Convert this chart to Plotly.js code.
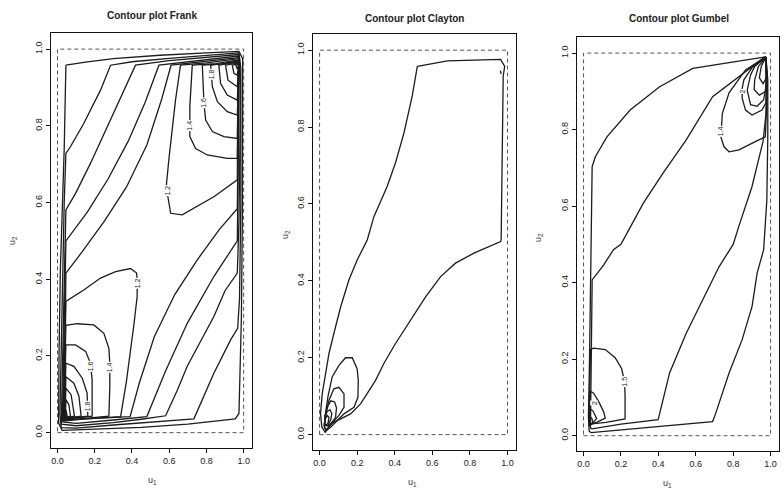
<!DOCTYPE html>
<html><head><meta charset="utf-8">
<script src="https://cdn.plot.ly/plotly-3.0.1.min.js"></script>
<style>html,body{margin:0;padding:0;background:#fff}#chart{width:783px;height:491px}</style>
</head><body><div id="chart"></div>
<script>
// ---------- tick labels ----------
const tickVals = [0, 0.2, 0.4, 0.6, 0.8, 1.0];
const tickText = ['0.0', '0.2', '0.4', '0.6', '0.8', '1.0'];
const panelTitles = ['Contour plot Frank', 'Contour plot Clayton', 'Contour plot Gumbel'];

// ---------- Frank: contour lines ([u1,u2] points) ----------
const frankOuter = [[0.045,0.958],[0.15,0.966],[0.3,0.975],[0.55,0.984],[0.8,0.99],[0.975,0.994],[0.995,0.975],[0.995,0.8],[0.993,0.55],[0.988,0.3],[0.975,0.05],[0.955,0.036],[0.85,0.03],[0.7,0.022],[0.45,0.014],[0.2,0.009],[0.025,0.006],[0.006,0.025],[0.008,0.2],[0.015,0.42],[0.025,0.57],[0.036,0.74],[0.045,0.958]];
const frankLow04 = [[0.975,0.99],[0.8,0.984],[0.6,0.976],[0.4,0.967],[0.285,0.958],[0.231,0.893],[0.141,0.806],[0.07,0.746],[0.045,0.728],[0.036,0.6],[0.028,0.4],[0.02,0.2],[0.013,0.05],[0.02,0.013],[0.1,0.012],[0.3,0.02],[0.55,0.03],[0.733,0.036],[0.84,0.155],[0.93,0.242],[0.968,0.272],[0.978,0.35],[0.985,0.6],[0.987,0.8],[0.985,0.95],[0.975,0.99]];
const frankLow06 = [[0.975,0.986],[0.8,0.979],[0.6,0.97],[0.419,0.958],[0.357,0.893],[0.267,0.798],[0.177,0.702],[0.097,0.624],[0.045,0.581],[0.039,0.45],[0.032,0.25],[0.024,0.1],[0.02,0.022],[0.1,0.018],[0.3,0.026],[0.45,0.035],[0.581,0.044],[0.643,0.11],[0.697,0.173],[0.84,0.303],[0.9,0.37],[0.966,0.416],[0.975,0.55],[0.98,0.75],[0.982,0.92],[0.975,0.986]];
const frankLow08 = [[0.975,0.982],[0.8,0.973],[0.65,0.965],[0.545,0.958],[0.47,0.86],[0.38,0.76],[0.27,0.66],[0.16,0.575],[0.045,0.5],[0.04,0.35],[0.034,0.2],[0.028,0.08],[0.025,0.028],[0.1,0.024],[0.3,0.033],[0.48,0.042],[0.58,0.16],[0.697,0.285],[0.84,0.407],[0.966,0.5],[0.97,0.65],[0.975,0.85],[0.975,0.982]];
const frankLow10 = [[0.975,0.978],[0.8,0.968],[0.61,0.958],[0.56,0.87],[0.48,0.75],[0.37,0.64],[0.25,0.55],[0.13,0.47],[0.045,0.416],[0.042,0.3],[0.037,0.15],[0.031,0.05],[0.03,0.034],[0.15,0.036],[0.39,0.042],[0.44,0.13],[0.52,0.25],[0.63,0.36],[0.75,0.45],[0.87,0.53],[0.966,0.584],[0.97,0.75],[0.972,0.9],[0.975,0.978]];
const frankHi12TR = [[0.975,0.975],[0.8,0.964],[0.661,0.958],[0.634,0.867],[0.6,0.72],[0.584,0.641],[0.608,0.572],[0.67,0.568],[0.84,0.615],[0.966,0.659],[0.968,0.8],[0.972,0.93],[0.975,0.975]];
const frankHi14TR = [[0.975,0.972],[0.85,0.962],[0.724,0.958],[0.711,0.85],[0.711,0.772],[0.742,0.741],[0.805,0.724],[0.912,0.715],[0.966,0.715],[0.97,0.85],[0.975,0.972]];
const frankHi16TR = [[0.975,0.97],[0.88,0.961],[0.778,0.958],[0.787,0.858],[0.796,0.815],[0.832,0.785],[0.894,0.772],[0.966,0.767],[0.97,0.88],[0.975,0.97]];
const frankHi18TR = [[0.975,0.968],[0.823,0.958],[0.832,0.902],[0.859,0.863],[0.912,0.837],[0.966,0.828],[0.972,0.91],[0.975,0.968]];
const frankHi20TR = [[0.975,0.966],[0.867,0.958],[0.876,0.911],[0.912,0.88],[0.966,0.867],[0.975,0.966]];
const frankHi22TR = [[0.975,0.964],[0.903,0.958],[0.916,0.919],[0.966,0.902],[0.975,0.964]];
const frankHi24TR = [[0.975,0.962],[0.939,0.958],[0.948,0.937],[0.966,0.932],[0.975,0.962]];
const frankHi26TR = [[0.975,0.96],[0.958,0.958],[0.966,0.948],[0.975,0.96]];
const frankHi12BL = [[0.03,0.03],[0.038,0.15],[0.045,0.342],[0.141,0.372],[0.231,0.403],[0.312,0.42],[0.392,0.428],[0.425,0.416],[0.428,0.394],[0.428,0.355],[0.41,0.28],[0.37,0.133],[0.339,0.042],[0.15,0.036],[0.03,0.03]];
const frankHi14BL = [[0.032,0.032],[0.04,0.2],[0.045,0.28],[0.106,0.284],[0.195,0.281],[0.249,0.259],[0.276,0.22],[0.281,0.181],[0.281,0.121],[0.276,0.043],[0.15,0.038],[0.032,0.032]];
const frankHi16BL = [[0.034,0.034],[0.045,0.229],[0.097,0.229],[0.151,0.212],[0.177,0.181],[0.186,0.138],[0.186,0.043],[0.034,0.034]];
const frankHi18BL = [[0.036,0.036],[0.045,0.181],[0.088,0.173],[0.133,0.142],[0.159,0.103],[0.163,0.043],[0.036,0.036]];
const frankHi20BL = [[0.038,0.037],[0.045,0.146],[0.088,0.129],[0.115,0.095],[0.127,0.043],[0.038,0.037]];
const frankHi22BL = [[0.04,0.038],[0.045,0.116],[0.073,0.099],[0.091,0.043],[0.04,0.038]];
const frankHi24BL = [[0.042,0.04],[0.045,0.086],[0.061,0.073],[0.07,0.043],[0.042,0.04]];
const frankHi26BL = [[0.043,0.041],[0.045,0.06],[0.052,0.043],[0.043,0.041]];
const frankLabelText = ['1.2','1.4','1.6','1.8','1.2','1.4','1.6','1.8'];
const frankLabelX = [0.586,0.711,0.787,0.826,0.428,0.281,0.178,0.161];
const frankLabelY = [0.63,0.80,0.86,0.935,0.39,0.17,0.172,0.07];

// ---------- Clayton ----------
const claytonOuter = [[0.52,0.958],[0.68,0.972],[0.963,0.976],[0.985,0.958],[0.977,0.933],[0.972,0.7],[0.966,0.507],[0.963,0.502],[0.821,0.472],[0.723,0.446],[0.644,0.411],[0.564,0.358],[0.484,0.298],[0.404,0.237],[0.342,0.185],[0.298,0.141],[0.218,0.08],[0.165,0.054],[0.059,0.028],[0.03,0.006],[0.012,0.02],[0.005,0.054],[0.014,0.106],[0.032,0.158],[0.05,0.211],[0.076,0.263],[0.112,0.332],[0.156,0.402],[0.2,0.454],[0.254,0.507],[0.289,0.567],[0.36,0.646],[0.404,0.707],[0.449,0.785],[0.493,0.881],[0.52,0.958]];
const claytonLoop2 = [[0.025,0.02],[0.03,0.05],[0.045,0.1],[0.067,0.15],[0.103,0.18],[0.138,0.2],[0.174,0.2],[0.2,0.171],[0.206,0.141],[0.204,0.097],[0.183,0.071],[0.13,0.054],[0.06,0.02],[0.035,0.01],[0.025,0.02]];
const claytonLoop3 = [[0.025,0.022],[0.03,0.05],[0.05,0.089],[0.076,0.119],[0.103,0.123],[0.13,0.106],[0.13,0.071],[0.103,0.05],[0.05,0.02],[0.035,0.012],[0.025,0.022]];
const claytonLoop4 = [[0.025,0.024],[0.03,0.05],[0.045,0.075],[0.06,0.088],[0.08,0.085],[0.09,0.07],[0.085,0.045],[0.05,0.022],[0.025,0.024]];
const claytonLoop5 = [[0.026,0.026],[0.03,0.045],[0.04,0.06],[0.055,0.065],[0.065,0.055],[0.06,0.04],[0.045,0.024],[0.026,0.026]];
const claytonLoop6 = [[0.027,0.028],[0.03,0.04],[0.04,0.05],[0.05,0.045],[0.045,0.03],[0.035,0.025],[0.027,0.028]];
const claytonDot = [[0.962,0.947],[0.966,0.938]];

// ---------- Gumbel ----------
const gumbelLowA = [[0.975,0.99],[0.8,0.977],[0.584,0.96],[0.407,0.912],[0.249,0.851],[0.125,0.781],[0.063,0.729],[0.046,0.703],[0.04,0.45],[0.032,0.2],[0.026,0.05],[0.03,0.012],[0.04,0.008],[0.35,0.022],[0.69,0.037],[0.707,0.059],[0.778,0.164],[0.848,0.251],[0.901,0.338],[0.928,0.425],[0.963,0.486],[0.98,0.616],[0.985,0.78],[0.985,0.93],[0.975,0.99]];
const gumbelLowB = [[0.97,0.99],[0.69,0.886],[0.549,0.773],[0.425,0.686],[0.319,0.607],[0.2,0.5],[0.16,0.486],[0.107,0.446],[0.046,0.407],[0.04,0.2],[0.035,0.05],[0.037,0.02],[0.045,0.018],[0.2,0.03],[0.399,0.042],[0.46,0.164],[0.549,0.268],[0.654,0.373],[0.725,0.442],[0.8,0.5],[0.83,0.547],[0.9,0.65],[0.96,0.77],[0.975,0.84],[0.98,0.95],[0.97,0.99]];
const gumbelHi14TR = [[0.975,0.99],[0.866,0.956],[0.778,0.896],[0.742,0.842],[0.734,0.781],[0.751,0.755],[0.778,0.742],[0.831,0.747],[0.937,0.773],[0.972,0.781],[0.982,0.9],[0.975,0.99]];
const gumbelHi20TR = [[0.975,0.99],[0.901,0.962],[0.857,0.93],[0.848,0.907],[0.848,0.882],[0.866,0.851],[0.901,0.838],[0.954,0.851],[0.975,0.87],[0.98,0.95],[0.975,0.99]];
const gumbelHi25TR = [[0.975,0.99],[0.915,0.965],[0.893,0.943],[0.875,0.903],[0.893,0.865],[0.928,0.861],[0.963,0.878],[0.978,0.92],[0.975,0.99]];
const gumbelHi30TR = [[0.975,0.99],[0.935,0.965],[0.915,0.93],[0.912,0.905],[0.94,0.89],[0.975,0.9],[0.975,0.99]];
const gumbelHi35TR = [[0.975,0.99],[0.95,0.965],[0.94,0.935],[0.96,0.92],[0.978,0.935],[0.975,0.99]];
const gumbelHi15BL = [[0.03,0.03],[0.035,0.15],[0.037,0.225],[0.054,0.229],[0.116,0.225],[0.169,0.204],[0.204,0.175],[0.219,0.141],[0.222,0.106],[0.222,0.044],[0.12,0.035],[0.03,0.03]];
const gumbelHi20BL = [[0.03,0.028],[0.035,0.1],[0.037,0.116],[0.054,0.111],[0.081,0.089],[0.107,0.063],[0.116,0.046],[0.07,0.035],[0.03,0.028]];
const gumbelHi25BL = [[0.03,0.026],[0.035,0.07],[0.05,0.065],[0.07,0.045],[0.05,0.033],[0.03,0.026]];
const gumbelHi30BL = [[0.03,0.025],[0.034,0.05],[0.045,0.045],[0.05,0.035],[0.03,0.025]];
const gumbelLabelText = ['1.4','2','1.5','2'];
const gumbelLabelX = [0.734,0.848,0.219,0.055];
const gumbelLabelY = [0.795,0.9,0.14,0.085];

// ---------- build ----------
const LINE = {color:'#1c1c1c', width:1.3};
function tr(pts, ax) {
  return {x: pts.map(p => p[0]), y: pts.map(p => p[1]), mode:'lines', type:'scatter',
          xaxis:'x' + ax, yaxis:'y' + ax, line: LINE, hoverinfo:'skip', showlegend:false};
}
const traces = [];
[frankOuter, frankLow04, frankLow06, frankLow08, frankLow10,
 frankHi12TR, frankHi14TR, frankHi16TR, frankHi18TR, frankHi20TR, frankHi22TR, frankHi24TR, frankHi26TR,
 frankHi12BL, frankHi14BL, frankHi16BL, frankHi18BL, frankHi20BL, frankHi22BL, frankHi24BL, frankHi26BL
].forEach(p => traces.push(tr(p, '')));
[claytonOuter, claytonLoop2, claytonLoop3, claytonLoop4, claytonLoop5, claytonLoop6, claytonDot
].forEach(p => traces.push(tr(p, '2')));
[gumbelLowA, gumbelLowB, gumbelHi14TR, gumbelHi20TR, gumbelHi25TR, gumbelHi30TR, gumbelHi35TR,
 gumbelHi15BL, gumbelHi20BL, gumbelHi25BL, gumbelHi30BL
].forEach(p => traces.push(tr(p, '3')));

const FONT = 'Liberation Sans, Arial, sans-serif';
function xa(domain) {
  return {domain: domain, range:[-0.035,1.045], showline:true, mirror:true, linecolor:'#111', linewidth:1.2,
          ticks:'outside', ticklen:4, tickcolor:'#111', tickvals:tickVals, ticktext:tickText,
          tickfont:{family:FONT, size:9, color:'#222'}, showgrid:false, zeroline:false, fixedrange:true};
}
function ya(domain, anchor) {
  return {domain: domain, range:[-0.04,1.042], showline:true, mirror:true, linecolor:'#111', linewidth:1.2,
          ticks:'outside', ticklen:4, tickcolor:'#111', tickvals:tickVals, ticktext:tickText, tickangle:-90,
          tickfont:{family:FONT, size:9, color:'#222'}, showgrid:false, zeroline:false, anchor: anchor, fixedrange:true};
}
const W = 783, H = 491;
const px = (a, b) => [a / W, b / W];
const py = (top, bottom) => [(H - bottom) / H, (H - top) / H];

const shapes = ['', '2', '3'].map(a => ({type:'rect', xref:'x' + a, yref:'y' + a, x0:0, x1:1, y0:0, y1:1,
  line:{color:'#555', width:1, dash:'4px,3px'}}));

const annotations = [];
const titlePos = [[152,16],[415,19],[679,19]];
panelTitles.forEach((t, i) => annotations.push({text:'<b>' + t + '</b>', xref:'paper', yref:'paper',
  x: titlePos[i][0] / W, y: 1 - titlePos[i][1] / H, showarrow:false, xanchor:'center', yanchor:'middle',
  font:{family:FONT, size:10, color:'#222'}}));
const u1Pos = [[152,480],[412,482],[667,483]];
const u2Pos = [[12,241],[286,235],[539,238]];
u1Pos.forEach(p => annotations.push({text:'u<sub>1</sub>', xref:'paper', yref:'paper', x:p[0]/W, y:1-p[1]/H,
  showarrow:false, xanchor:'center', yanchor:'middle', font:{family:FONT, size:9, color:'#333'}}));
u2Pos.forEach(p => annotations.push({text:'u<sub>2</sub>', xref:'paper', yref:'paper', x:p[0]/W, y:1-p[1]/H,
  showarrow:false, xanchor:'center', yanchor:'middle', textangle:-90, font:{family:FONT, size:9, color:'#333'}}));
function lab(text, x, y, ax) {
  annotations.push({text:text, xref:'x' + ax, yref:'y' + ax, x:x, y:y, showarrow:false, textangle:-90,
    bgcolor:'#fff', borderpad:0, font:{family:FONT, size:7, color:'#222'}});
}
frankLabelText.forEach((t, i) => lab(t, frankLabelX[i], frankLabelY[i], ''));
gumbelLabelText.forEach((t, i) => lab(t, gumbelLabelX[i], gumbelLabelY[i], '3'));

const layout = {
  width: W, height: H, margin:{l:0, r:0, t:0, b:0}, paper_bgcolor:'#fff', plot_bgcolor:'#fff', showlegend:false,
  xaxis: xa(px(51,252)), yaxis: ya(py(33,448), 'x'),
  xaxis2: Object.assign(xa(px(313,516)), {anchor:'y2'}), yaxis2: ya(py(34,450), 'x2'),
  xaxis3: Object.assign(xa(px(577,779)), {anchor:'y3'}), yaxis3: ya(py(37,451), 'x3'),
  shapes: shapes, annotations: annotations
};
layout.xaxis.anchor = 'y';
Plotly.newPlot('chart', traces, layout, {staticPlot:true, displayModeBar:false});
</script></body></html>
